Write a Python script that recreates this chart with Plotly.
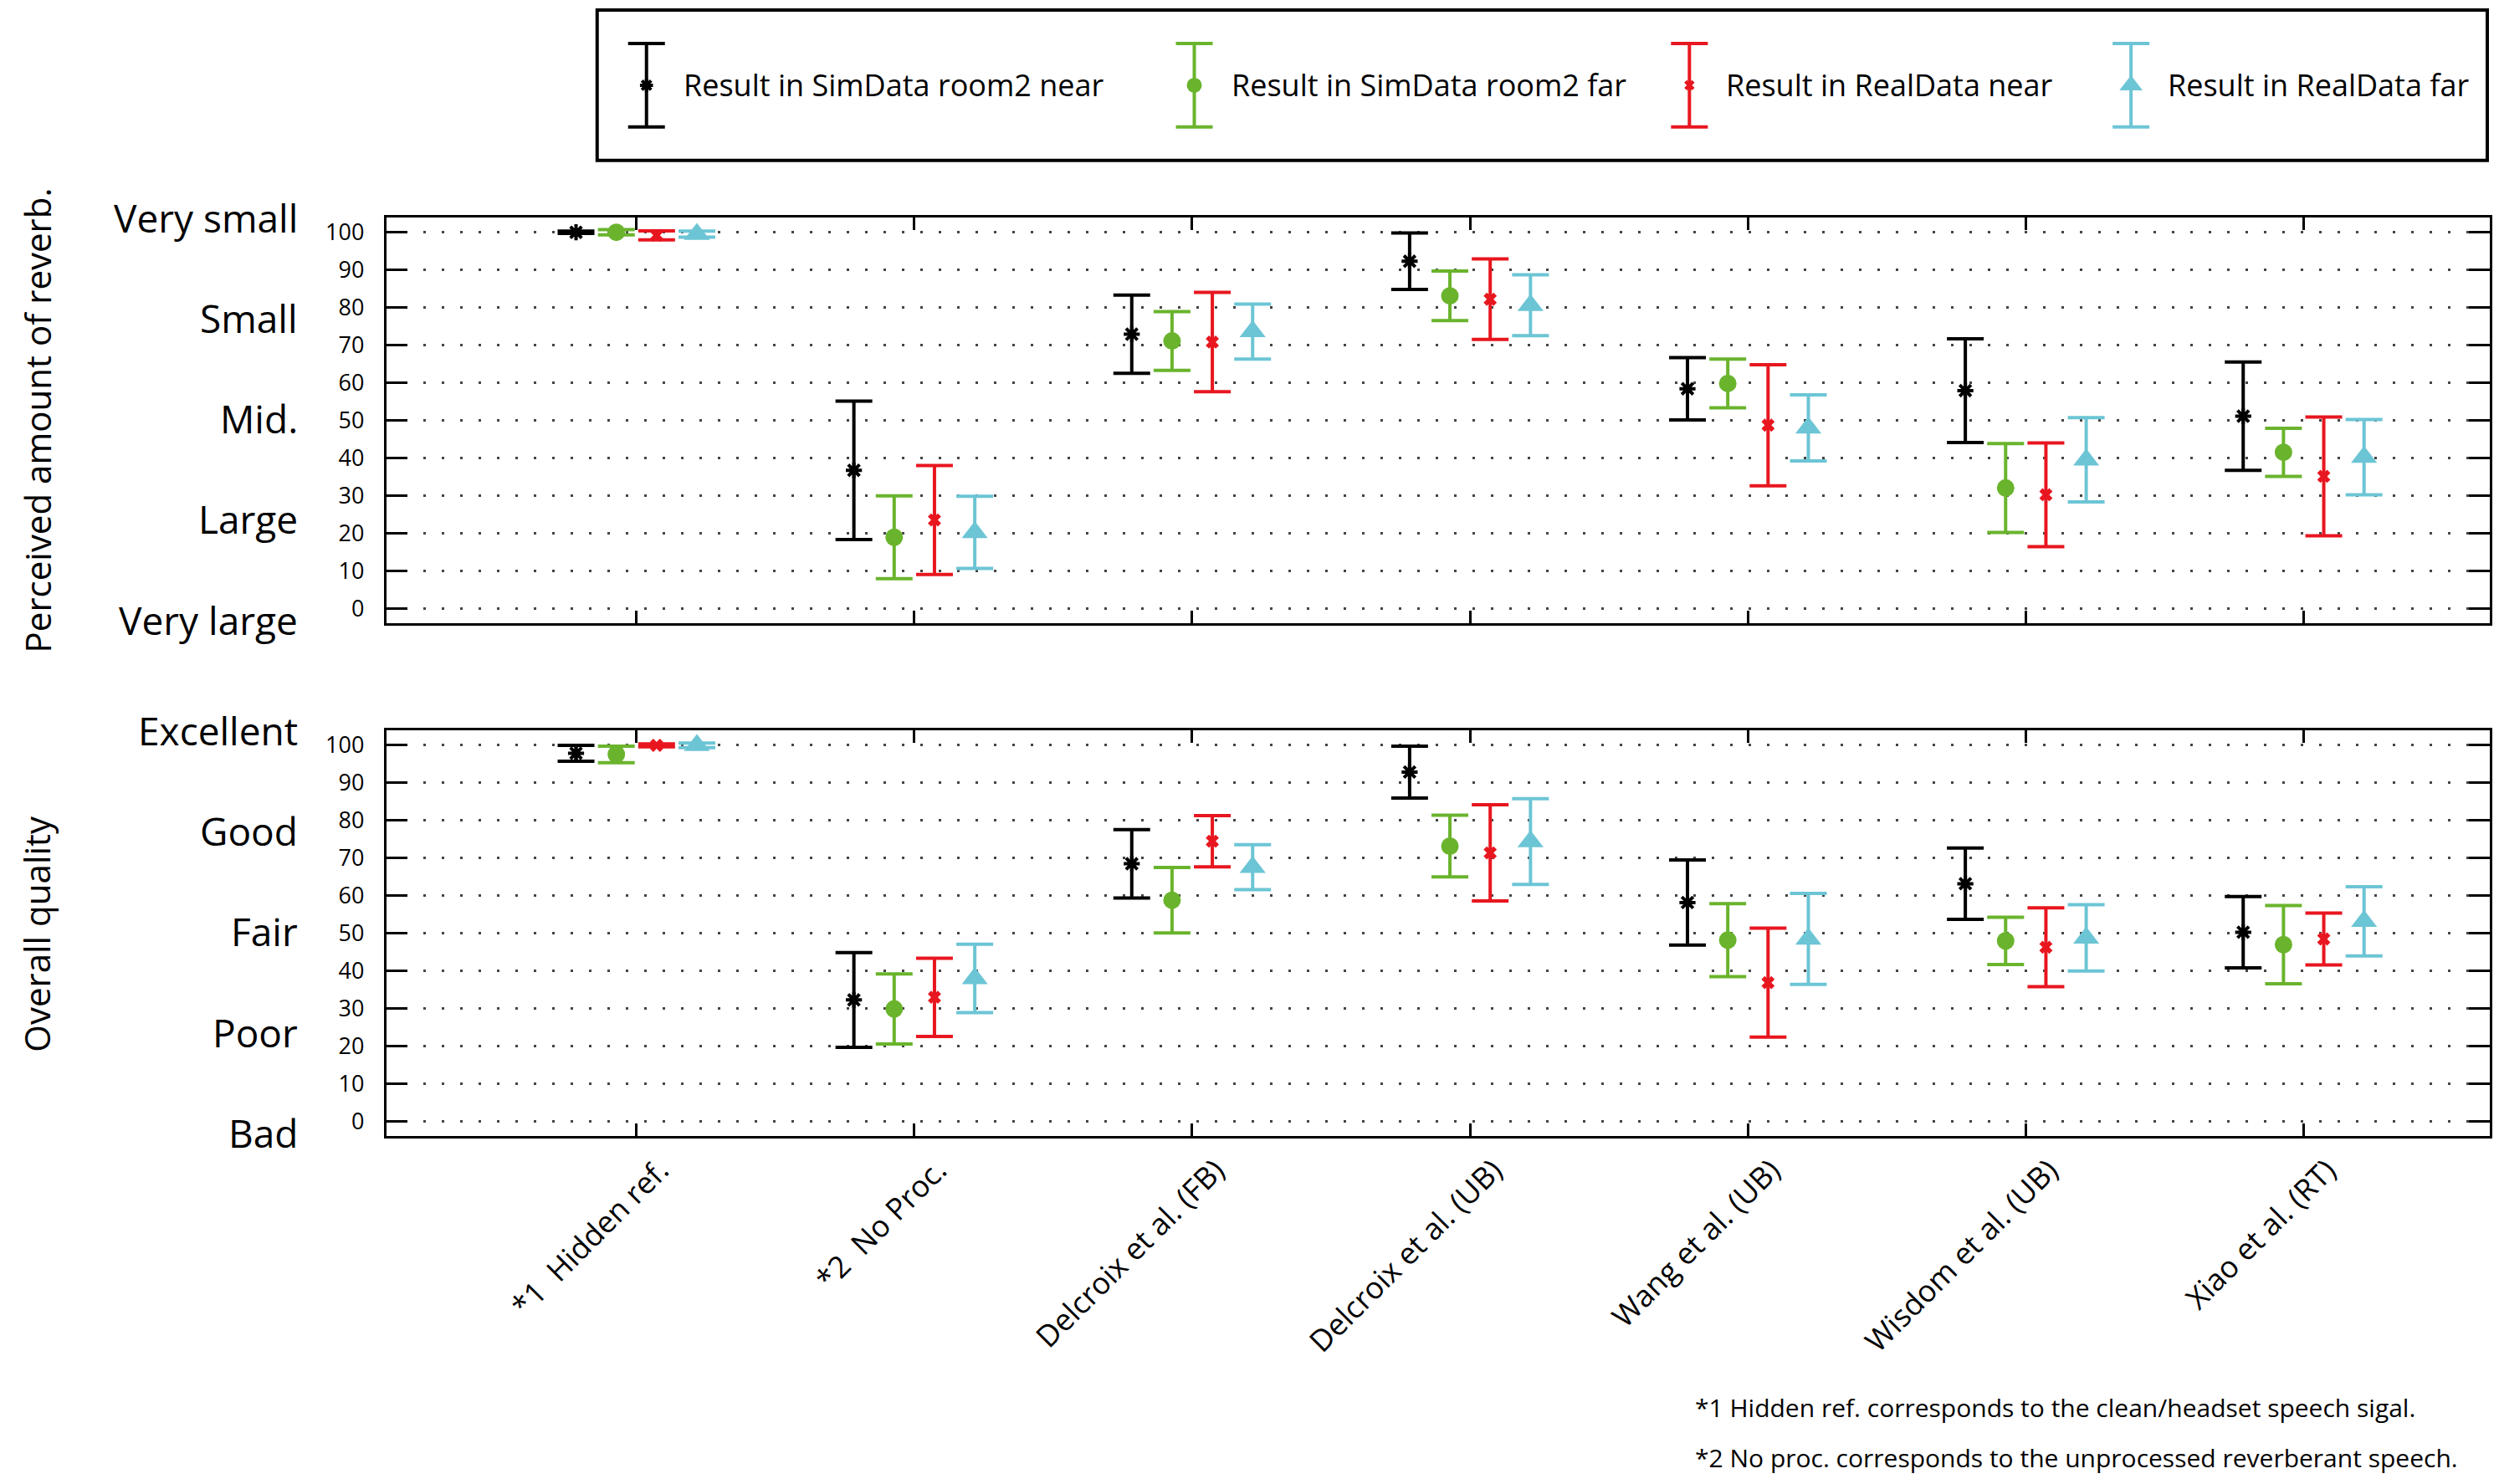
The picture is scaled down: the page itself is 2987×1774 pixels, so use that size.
"""
Listening test results: perceived reverberation and overall quality,
mean scores with 95% confidence intervals per method and condition.
"""

import numpy as np
import plotly.graph_objects as go

# ---------------------------------------------------------------- data
CATEGORIES = [
    "*1\u00a0\u00a0Hidden ref.",
    "*2\u00a0\u00a0No Proc.",
    "Delcroix et al. (FB)",
    "Delcroix et al. (UB)",
    "Wang et al. (UB)",
    "Wisdom et al. (UB)",
    "Xiao et al. (RT)",
]

SERIES = [
    "Result in SimData room2 near",
    "Result in SimData room2 far",
    "Result in RealData near",
    "Result in RealData far",
]

# perceived amount of reverberation (mean, half CI)
rev_sim_near = [100.0, 36.7, 72.9, 92.3, 58.4, 57.9, 51.1]
rev_sim_near_ci = [0.3, 18.4, 10.4, 7.5, 8.3, 13.8, 14.4]
rev_sim_far = [100.0, 18.9, 71.1, 83.1, 59.8, 32.0, 41.5]
rev_sim_far_ci = [0.7, 11.0, 7.8, 6.6, 6.5, 11.8, 6.4]
rev_real_near = [99.2, 23.5, 70.8, 82.2, 48.7, 30.2, 35.1]
rev_real_near_ci = [1.2, 14.5, 13.2, 10.7, 16.1, 13.8, 15.8]
rev_real_far = [99.5, 20.2, 73.6, 80.6, 48.0, 39.5, 40.2]
rev_real_far_ci = [0.8, 9.6, 7.3, 8.1, 8.8, 11.2, 10.0]

# overall quality (mean, half CI)
q_sim_near = [97.9, 32.3, 68.5, 92.9, 58.2, 63.2, 50.3]
q_sim_near_ci = [2.1, 12.6, 9.1, 6.9, 11.3, 9.5, 9.5]
q_sim_far = [97.6, 29.9, 58.8, 73.2, 48.2, 48.0, 47.0]
q_sim_far_ci = [2.2, 9.3, 8.7, 8.2, 9.7, 6.3, 10.4]
q_real_near = [100.0, 33.0, 74.5, 71.4, 36.9, 46.3, 48.5]
q_real_near_ci = [0.4, 10.4, 6.8, 12.8, 14.5, 10.5, 6.9]
q_real_far = [100.0, 38.0, 67.6, 74.4, 48.5, 48.8, 53.2]
q_real_far_ci = [0.6, 9.1, 6.0, 11.4, 12.1, 8.8, 9.2]

REVERB_LABELS = ["Very small", "Small", "Mid.", "Large", "Very large"]
QUALITY_LABELS = ["Excellent", "Good", "Fair", "Poor", "Bad"]

FOOTNOTES = [
    "*1 Hidden ref. corresponds to the clean/headset speech sigal.",
    "*2 No proc. corresponds to the unprocessed reverberant speech.",
]

# ---------------------------------------------------------------- style
PAGE_W, PAGE_H = 2987, 1774
PAD = 8                       # browser body margin
W, H = PAGE_W - 2 * PAD, PAGE_H - 2 * PAD
FONT = "Open Sans"
COLORS = ["#000000", "#6ab42d", "#e8161f", "#6cc5d5"]
SYMBOLS = ["asterisk-open", "circle", "x", "triangle-up"]
SIZES = [16, 21, 14, 27]
OFFSETS = (np.arange(4) - 1.5) * 0.145


def px(x):
    return min(max((x - PAD) / W, 0), 1)


def py(y):
    return min(max(1 - (y - PAD) / H, 0), 1)


X_DOM = [px(462), px(2977)]
TOP_DOM = [py(744), py(258)]
BOT_DOM = [py(1358), py(872)]
LEG_X = [px(714), px(2974)]
LEG_Y = [py(190), py(10)]
# legend key slots, in pixels across the legend box
LEG_SLOTS = [773, 1428, 2020, 2548]

panels = [
    ("y", [rev_sim_near, rev_sim_far, rev_real_near, rev_real_far],
     [rev_sim_near_ci, rev_sim_far_ci, rev_real_near_ci, rev_real_far_ci]),
    ("y2", [q_sim_near, q_sim_far, q_real_near, q_real_far],
     [q_sim_near_ci, q_sim_far_ci, q_real_near_ci, q_real_far_ci]),
]

fig = go.Figure()
xpos = np.arange(1, len(CATEGORIES) + 1)


def marker_style(i, shrink=0):
    return dict(symbol=SYMBOLS[i], size=SIZES[i] - shrink, color=COLORS[i],
                line=dict(color=COLORS[i], width=4 if i == 0 else 0))


def bar_style(i, arr):
    return dict(type="data", array=arr, visible=True,
                color=COLORS[i], thickness=4, width=22)


for yref, means, cis in panels:
    xref = "x" if yref == "y" else "x2"
    for i, name in enumerate(SERIES):
        fig.add_trace(go.Scatter(
            x=xpos + OFFSETS[i], y=means[i], name=name,
            mode="markers", xaxis=xref, yaxis=yref,
            marker=marker_style(i), error_y=bar_style(i, cis[i]),
            showlegend=False,
        ))

# legend key: one error-bar glyph per series on its own hidden axis
for i, name in enumerate(SERIES):
    fig.add_trace(go.Scatter(
        x=[LEG_SLOTS[i]], y=[0], mode="markers", xaxis="x3", yaxis="y3",
        marker=marker_style(i, shrink=3), error_y=bar_style(i, [1]),
        showlegend=False, hoverinfo="skip",
    ))
    fig.add_annotation(x=LEG_SLOTS[i] + 42, y=0, xref="x3", yref="y3",
                       text=name, showarrow=False, xanchor="left",
                       yanchor="middle", font=dict(size=36, color="black"))

axis_common = dict(
    showline=True, linecolor="black", linewidth=3, mirror="allticks",
    ticks="inside", tickcolor="black", tickwidth=2.5, zeroline=False,
)
xaxis_common = dict(axis_common, range=[0.1, 7.67], tickvals=list(xpos),
                    ticklen=15, showgrid=False)
yaxis_common = dict(axis_common, range=[-4, 104], tick0=0, dtick=10,
                    ticklen=25, showgrid=True, gridcolor="#444444",
                    gridwidth=2.5, griddash="3px,19px",
                    tickfont=dict(size=27), ticklabelstandoff=18)

fig.update_layout(
    width=W, height=H,
    margin=dict(l=0, r=0, t=0, b=0),
    plot_bgcolor="white", paper_bgcolor="white",
    font=dict(family=FONT, size=30, color="black"),
    showlegend=False,
    xaxis=dict(xaxis_common, domain=X_DOM, anchor="y", showticklabels=False),
    yaxis=dict(yaxis_common, domain=TOP_DOM, anchor="x"),
    xaxis2=dict(xaxis_common, domain=X_DOM, anchor="y2", ticktext=CATEGORIES,
                tickangle=-45, tickfont=dict(size=36), ticklabelstandoff=2,
                ticklabelshift=28),
    yaxis2=dict(yaxis_common, domain=BOT_DOM, anchor="x2"),
    xaxis3=dict(domain=LEG_X, range=[714, 2974], anchor="y3", visible=False),
    yaxis3=dict(domain=LEG_Y, range=[-1.8, 1.8], anchor="x3", visible=False),
)

# legend frame
fig.add_shape(type="rect", xref="paper", yref="paper",
              x0=LEG_X[0], x1=LEG_X[1], y0=LEG_Y[0], y1=LEG_Y[1],
              line=dict(color="black", width=4), fillcolor="rgba(0,0,0,0)")

# verbal scale labels next to the numeric ticks
label_pos = np.linspace(104, -3, 5)
for yref, labels in (("y", REVERB_LABELS), ("y2", QUALITY_LABELS)):
    for lab, yv in zip(labels, label_pos):
        fig.add_annotation(x=px(358), y=yv, xref="paper", yref=yref,
                           text=lab, showarrow=False, xanchor="right",
                           yanchor="middle", font=dict(size=46))

# panel titles
for text, dom in (("Perceived amount of reverb.", TOP_DOM),
                  ("Overall quality", BOT_DOM)):
    fig.add_annotation(x=px(44), y=sum(dom) / 2, xref="paper", yref="paper",
                       text=text, textangle=-90, showarrow=False,
                       xanchor="center", yanchor="middle",
                       font=dict(size=42))

# footnotes
for k, note in enumerate(FOOTNOTES):
    fig.add_annotation(x=px(2025), y=py(1682 + 60 * k),
                       xref="paper", yref="paper", text=note,
                       showarrow=False, xanchor="left", yanchor="middle",
                       font=dict(size=30))

fig.write_html("out.html")
